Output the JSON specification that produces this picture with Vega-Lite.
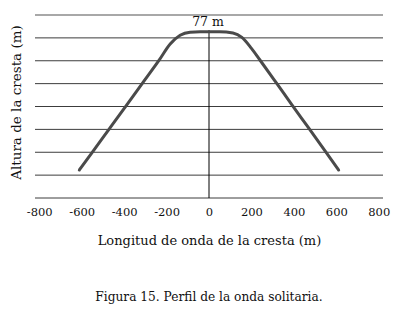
{
  "$schema": "https://vega.github.io/schema/vega-lite/v6.json",
  "autosize": {"type": "none"},
  "width": 348,
  "height": 183,
  "padding": {"left": 35, "top": 15, "right": 16, "bottom": 114},
  "background": "white",
  "config": {
    "font": "DejaVu Serif",
    "view": {"stroke": null},
    "axis": {"labelFont": "DejaVu Serif", "titleFont": "DejaVu Serif", "labelColor": "#111", "titleColor": "#111", "titleFontWeight": "normal"}
  },
  "title": {
    "text": "Figura 15. Perfil de la onda solitaria.",
    "orient": "bottom",
    "font": "DejaVu Serif",
    "fontSize": 12.2,
    "fontWeight": "normal",
    "color": "#111",
    "offset": 43,
    "anchor": "middle"
  },
  "datasets": {
    "grid": [
      {"y": 0}, {"y": 10.625}, {"y": 21.25}, {"y": 31.875}, {"y": 42.5},
      {"y": 53.125}, {"y": 63.75}, {"y": 74.375}, {"y": 85}
    ],
    "curve": [
      {"x": -611, "y": 13},
      {"x": -552, "y": 21.0},
      {"x": -475, "y": 31.4},
      {"x": -390, "y": 42.9},
      {"x": -310, "y": 53.8},
      {"x": -235, "y": 64},
      {"x": -183, "y": 71.5},
      {"x": -136, "y": 75.6},
      {"x": -89, "y": 77},
      {"x": -42, "y": 77.2},
      {"x": 0, "y": 77.2},
      {"x": 50, "y": 77.2},
      {"x": 113, "y": 76.6},
      {"x": 155, "y": 74.6},
      {"x": 200, "y": 69.5},
      {"x": 240, "y": 64.1},
      {"x": 320, "y": 53.1},
      {"x": 390, "y": 43.4},
      {"x": 466, "y": 33.0},
      {"x": 546, "y": 22.0},
      {"x": 611, "y": 13}
    ],
    "vline": [{"x": 0, "y": 0, "y2": 78}],
    "label": [{"x": 0, "y": 78.5, "text": "77 m"}]
  },
  "layer": [
    {
      "data": {"name": "grid"},
      "mark": {"type": "rule"},
      "encoding": {
        "y": {
          "field": "y", "type": "quantitative",
          "scale": {"domain": [0, 85], "nice": false},
          "axis": {
            "labels": false, "ticks": false, "domain": false, "grid": false,
            "title": "Altura de la cresta  (m)",
            "titleFontSize": 13.5, "titlePadding": 12, "titleY": 87
          }
        },
        "color": {"condition": {"test": "datum.y > 84", "value": "#a8a8a8"}, "value": "#3c3c3c"},
        "strokeWidth": {"condition": {"test": "datum.y > 84", "value": 2}, "value": 1}
      }
    },
    {
      "data": {"name": "vline"},
      "mark": {"type": "rule", "color": "#000", "strokeWidth": 1},
      "encoding": {
        "x": {
          "field": "x", "type": "quantitative",
          "scale": {"domain": [-820, 820], "nice": false, "zero": false},
          "axis": {
            "values": [-800, -600, -400, -200, 0, 200, 400, 600, 800],
            "labelExpr": "datum.value < 0 ? '-' + abs(datum.value) : '' + datum.value",
            "grid": false, "ticks": false, "domain": false,
            "labelFontSize": 11.5, "labelPadding": 8,
            "title": "Longitud de onda de la cresta (m)",
            "titleFontSize": 13, "titlePadding": 17
          }
        },
        "y": {"field": "y", "type": "quantitative"},
        "y2": {"field": "y2"}
      }
    },
    {
      "data": {"name": "curve"},
      "mark": {"type": "line", "color": "#4a4a4a", "strokeWidth": 3, "interpolate": "monotone", "strokeCap": "round"},
      "encoding": {
        "x": {"field": "x", "type": "quantitative"},
        "y": {"field": "y", "type": "quantitative"}
      }
    },
    {
      "data": {"name": "label"},
      "mark": {"type": "text", "baseline": "bottom", "align": "center", "font": "DejaVu Serif", "fontSize": 12.5, "color": "#111", "dx": -1},
      "encoding": {
        "x": {"field": "x", "type": "quantitative"},
        "y": {"field": "y", "type": "quantitative"},
        "text": {"field": "text"}
      }
    }
  ]
}
